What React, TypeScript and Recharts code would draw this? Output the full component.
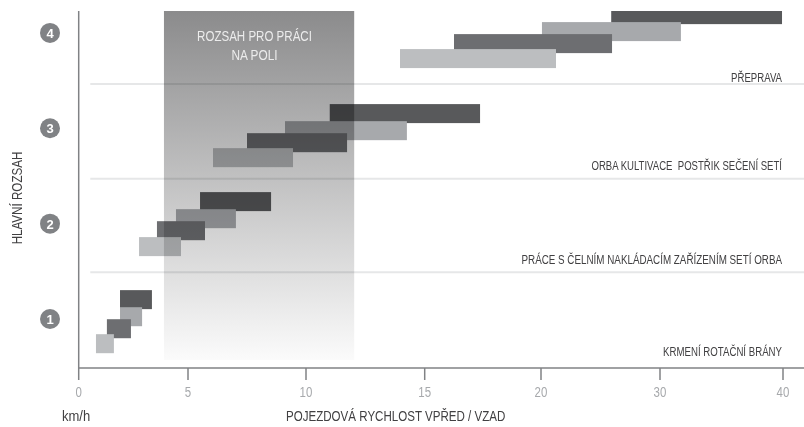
import { Bar, ComposedChart, ReferenceArea, ReferenceLine, XAxis, YAxis } from "recharts";

const speedFrom = [25.9, 20.08, 16.26, 13.96, 11, 9.11, 7.5, 6.06, 5.51, 4.45, 3.58, 2.76, 1.89, 1.89, 1.29, 0.79];
const speedTo = [39.92, 31.7, 25.97, 21.26, 17.38, 14.25, 11.73, 9.45, 8.52, 7.03, 5.72, 4.68, 3.35, 2.9, 2.39, 1.61];
const levels = [4.194, 4.016, 3.89, 3.733, 3.156, 2.977, 2.851, 2.694, 2.233, 2.054, 1.928, 1.761, 1.205, 1.026, 0.9, 0.743];
const shades = ["#58595b", "#a7a9ac", "#6d6e71", "#bcbec0"];

const speedTicks = [0, 5, 10, 15, 20, 30, 40];
const levelTicks = [1, 2, 3, 4];
const dividers = [1.49, 2.47, 3.465];

const bandTitle = ["ROZSAH PRO PRÁCI", "NA POLI"];
const workNotes = ["PŘEPRAVA", "ORBA KULTIVACE  POSTŘIK SEČENÍ SETÍ", "PRÁCE S ČELNÍM NAKLÁDACÍM ZAŘÍZENÍM SETÍ ORBA", "KRMENÍ ROTAČNÍ BRÁNY"];

const rows = levels.map((level, i) => ({ level, span: [speedFrom[i], speedTo[i]] }));

const FONT = '"Liberation Sans", sans-serif';
const INK = "#414042";
const BAR_HEIGHT = 19;

// the printed axis is not linear, so the stops are measured off the ticks
const stopSpeed = [0, 5, 10, 15, 20, 30, 40, 41.7];
const stopPx = [78.7, 188, 306, 424.7, 541, 660, 783, 804];

function makeScale(): any {
  const scale: any = (v: number) => {
    let i = 0;
    while (i < stopSpeed.length - 2 && v > stopSpeed[i + 1]) i++;
    const t = (v - stopSpeed[i]) / (stopSpeed[i + 1] - stopSpeed[i]);
    return stopPx[i] + t * (stopPx[i + 1] - stopPx[i]);
  };
  scale.domain = (d?: number[]) => (d ? scale : [stopSpeed[0], stopSpeed[stopSpeed.length - 1]]);
  scale.range = (r?: number[]) => (r ? scale : [stopPx[0], stopPx[stopPx.length - 1]]);
  scale.ticks = () => speedTicks;
  scale.tickFormat = () => (v: number) => String(v);
  scale.bandwidth = () => 0;
  scale.copy = () => makeScale();
  scale.clamp = () => scale;
  return scale;
}

// the source face is condensed and none is installed, so text is squeezed horizontally
function Squeezed({ x, y, squeeze, anchor = "end", size = 13, fill = INK, rotate = 0, children }: any) {
  return (
    <text
      textAnchor={anchor}
      fontFamily={FONT}
      fontSize={size}
      fill={fill}
      transform={`translate(${x} ${y}) rotate(${rotate}) scale(${squeeze} 1)`}
      xmlSpace="preserve"
    >
      {children}
    </text>
  );
}

function LevelBadge({ y, payload }: any) {
  return (
    <g>
      <circle cx={50} cy={y} r={10} fill="#808285" />
      <text x={50} y={y + 5} textAnchor="middle" fontFamily={FONT} fontSize={13} fontWeight={700} fill="#fff">
        {payload.value}
      </text>
    </g>
  );
}

function SpeedTick({ x, payload }: any) {
  return (
    <Squeezed x={x} y={397} squeeze={0.82} anchor="middle" size={14} fill="#a7a9ac">
      {payload.value}
    </Squeezed>
  );
}

// rows overlap, so a bar is taller than the gap Recharts would allow it
function SpeedBar({ x, y, width, height, index }: any) {
  return (
    <rect
      x={x}
      y={y + height / 2 - BAR_HEIGHT / 2}
      width={width}
      height={BAR_HEIGHT}
      fill={shades[index % shades.length]}
    />
  );
}

function BandTitle() {
  return (
    <g>
      <Squeezed x={254.5} y={41} squeeze={0.77} anchor="middle" size={15} fill="#ececec">{bandTitle[0]}</Squeezed>
      <Squeezed x={254.5} y={60} squeeze={0.79} anchor="middle" size={15} fill="#ececec">{bandTitle[1]}</Squeezed>
    </g>
  );
}

export default function App() {
  return (
    <div style={{ position: "absolute", left: 0, top: 0, width: 804, height: 427, background: "#fff" }}>
      <ComposedChart
        width={804}
        height={427}
        layout="vertical"
        data={rows}
        margin={{ top: 11, right: 0, bottom: 0, left: 0 }}
      >
        <defs>
          <linearGradient id="fieldBand" x1="0" y1="0" x2="0" y2="1">
            <stop offset="0%" stopColor="#8b8b8c" />
            <stop offset="100%" stopColor="#fbfbfb" />
          </linearGradient>
        </defs>
        <XAxis
          type="number"
          scale={makeScale()}
          domain={[0, 41.7]}
          ticks={speedTicks}
          interval={0}
          tickSize={12}
          tick={<SpeedTick />}
          axisLine={{ stroke: "#808285", strokeWidth: 1.5 }}
          tickLine={{ stroke: "#808285", strokeWidth: 1.5 }}
          height={59}
        />
        <YAxis
          type="number"
          dataKey="level"
          domain={[0.486, 4.23]}
          reversed
          allowDataOverflow
          ticks={levelTicks}
          width={78.7}
          tick={<LevelBadge />}
          tickLine={false}
          axisLine={{ stroke: "#808285", strokeWidth: 1.5 }}
        />
        {dividers.map((y) => (
          <ReferenceLine
            key={y}
            segment={[{ x: 0.53, y }, { x: 41.7, y }]}
            stroke="#e6e7e8"
            strokeWidth={2}
          />
        ))}
        <Bar dataKey="span" shape={<SpeedBar />} isAnimationActive={false} />
        <ReferenceArea
          x1={3.9}
          x2={12.03}
          y1={0.57}
          y2={4.23}
          fill="url(#fieldBand)"
          fillOpacity={1}
          stroke="none"
          zIndex={1000}
          style={{ mixBlendMode: "multiply" }}
          label={<BandTitle />}
        />
        <Squeezed x={782} y={82} squeeze={0.74}>{workNotes[0]}</Squeezed>
        <Squeezed x={782} y={170} squeeze={0.737}>{workNotes[1]}</Squeezed>
        <Squeezed x={782} y={264} squeeze={0.757}>{workNotes[2]}</Squeezed>
        <Squeezed x={782} y={356} squeeze={0.744}>{workNotes[3]}</Squeezed>
        <Squeezed x={62} y={421} squeeze={0.93} anchor="start" size={14}>km/h</Squeezed>
        <Squeezed x={286} y={421} squeeze={0.827} anchor="start" size={14}>POJEZDOVÁ RYCHLOST VPŘED / VZAD</Squeezed>
        <Squeezed x={22} y={198} squeeze={0.83} anchor="middle" size={14} rotate={-90}>HLAVNÍ ROZSAH</Squeezed>
      </ComposedChart>
    </div>
  );
}
